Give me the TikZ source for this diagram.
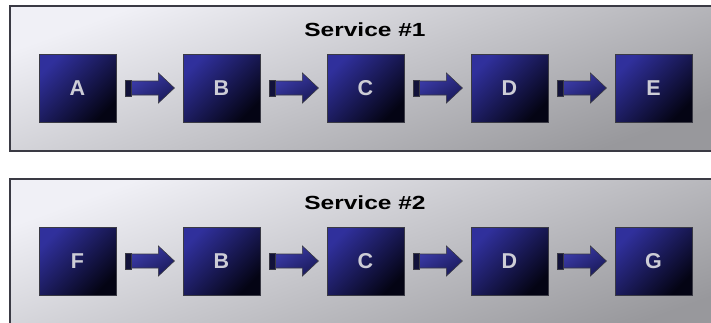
\documentclass[tikz,border=0pt]{standalone}
\usepackage{fontspec}
\setmainfont{Liberation Sans}
\usetikzlibrary{calc}
\definecolor{panelTop}{HTML}{F0F0F6}
\definecolor{panelBot}{HTML}{98989C}
\definecolor{boxTop}{HTML}{30309C}
\definecolor{boxBot}{HTML}{040414}
\definecolor{arrTop}{HTML}{3C3CAA}
\definecolor{arrBot}{HTML}{1A1A5A}
\definecolor{tailFill}{HTML}{12123A}
\definecolor{letterCol}{HTML}{CDCDD6}
\definecolor{edgeCol}{HTML}{3A3A44}
\tikzset{
  panel/.style={draw=edgeCol, line width=1.2pt, top color=panelTop, bottom color=panelBot, shading angle=20},
  stagebox/.style={draw=edgeCol, line width=0.8pt, top color=boxTop, bottom color=boxBot, shading angle=45,
    minimum width=77pt, minimum height=68pt, inner sep=0pt,
    font=\fontsize{21.5}{21.5}\selectfont\bfseries, text=letterCol},
  paneltitle/.style={anchor=base, inner sep=0pt, font=\fontsize{19}{19}\selectfont\bfseries, xscale=1.29},
  shaft/.style={draw=edgeCol, line width=0.6pt, top color=arrTop, bottom color=arrBot, shading angle=30},
  tailblock/.style={draw=edgeCol, line width=0.6pt, fill=tailFill}
}
\newcommand\fatarrow[2]{%
  \begin{scope}[shift={($(#1.east)+(9,0)$)}]
    \path[shaft] (6,-7) -- (33,-7) -- (33,-15) -- (49,0) -- (33,15) -- (33,7) -- (6,7) -- cycle;
    \path[tailblock] (0,-8) rectangle (6,8);
  \end{scope}}
\begin{document}
\begin{tikzpicture}[x=1pt,y=-1pt]
\useasboundingbox (0,0) rectangle (711,322);
\fill[white] (0,0) rectangle (711,322);
% panel 1
\path[panel] (10,6) rectangle (720,151);
\node[paneltitle] (t1) at (365,36) {Service \#1};
\foreach \n/\l [count=\i from 0] in {a1/A,b1/B,c1/C,d1/D,e1/E}
  \node[stagebox] (\n) at ({77.5+144*\i},88) {\l};
\fatarrow{a1}{b1}
\fatarrow{b1}{c1}
\fatarrow{c1}{d1}
\fatarrow{d1}{e1}
% panel 2
\path[panel] (10,179) rectangle (720,340);
\node[paneltitle] (t2) at (365,209) {Service \#2};
\foreach \n/\l [count=\i from 0] in {f2/F,b2/B,c2/C,d2/D,g2/G}
  \node[stagebox] (\n) at ({77.5+144*\i},261) {\l};
\fatarrow{f2}{b2}
\fatarrow{b2}{c2}
\fatarrow{c2}{d2}
\fatarrow{d2}{g2}
\end{tikzpicture}
\end{document}
